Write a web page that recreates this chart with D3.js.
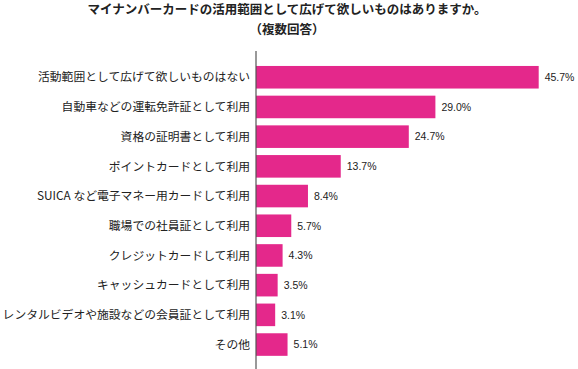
<!DOCTYPE html>
<html>
<head>
<meta charset="utf-8">
<script src="https://cdn.jsdelivr.net/npm/d3@7"></script>
<style>
  body { margin: 0; background: #fff; }
  svg { display: block; font-family: "Noto Sans CJK JP", sans-serif; }
</style>
</head>
<body>
<div id="chart"></div>
<script>
const titleLines = ["マイナンバーカードの活用範囲として広げて欲しいものはありますか。", "（複数回答）"];

const categories = [
  "活動範囲として広げて欲しいものはない",
  "自動車などの運転免許証として利用",
  "資格の証明書として利用",
  "ポイントカードとして利用",
  "SUICA など電子マネー用カードして利用",
  "職場での社員証として利用",
  "クレジットカードして利用",
  "キャッシュカードとして利用",
  "レンタルビデオや施設などの会員証として利用",
  "その他"
];
const values = [45.7, 29.0, 24.7, 13.7, 8.4, 5.7, 4.3, 3.5, 3.1, 5.1];

const width = 578, height = 369;

let svg = d3.select("#chart").append("svg")
    .attr("width", width)
    .attr("height", height);

let x = d3.scaleLinear()
    .domain([0, 50])
    .range([256, 565.3]);

let y = d3.scaleBand()
    .domain(categories)
    .range([62.4, 359.4])
    .paddingInner(0.24)
    .paddingOuter(0.12);

// title
svg.selectAll("text.title")
   .data(titleLines)
   .join("text")
   .attr("class", "title")
   .attr("x", 287)
   .attr("y", (d, i) => 14 + i * 20)
   .attr("text-anchor", "middle")
   .attr("font-size", 12.5)
   .attr("font-weight", "bold")
   .attr("fill", "#222")
   .text(d => d);

let rows = categories.map((c, i) => ({cat: c, val: values[i]}));

svg.selectAll("rect.bar")
   .data(rows)
   .join("rect")
   .attr("class", "bar")
   .attr("x", x(0))
   .attr("y", d => y(d.cat))
   .attr("width", d => x(d.val) - x(0))
   .attr("height", y.bandwidth())
   .attr("fill", "#e4288b");

// category labels
svg.selectAll("text.cat")
   .data(rows)
   .join("text")
   .attr("class", "cat")
   .attr("x", 250)
   .attr("y", d => y(d.cat) + y.bandwidth() / 2)
   .attr("dy", "0.36em")
   .attr("text-anchor", "end")
   .attr("font-size", 11.8)
   .attr("fill", "#222")
   .text(d => d.cat);

// value labels
svg.selectAll("text.val")
   .data(rows)
   .join("text")
   .attr("class", "val")
   .attr("x", d => x(d.val) + 6)
   .attr("y", d => y(d.cat) + y.bandwidth() / 2)
   .attr("dy", "0.36em")
   .attr("font-size", 10.5)
   .attr("font-family", "Liberation Sans, Arial, sans-serif")
   .attr("fill", "#222")
   .text(d => d.val.toFixed(1) + "%");

// axis line
svg.append("line")
   .attr("x1", x(0)).attr("x2", x(0))
   .attr("y1", 51).attr("y2", height)
   .attr("stroke", "#555")
   .attr("stroke-width", 1.2);
</script>
</body>
</html>
